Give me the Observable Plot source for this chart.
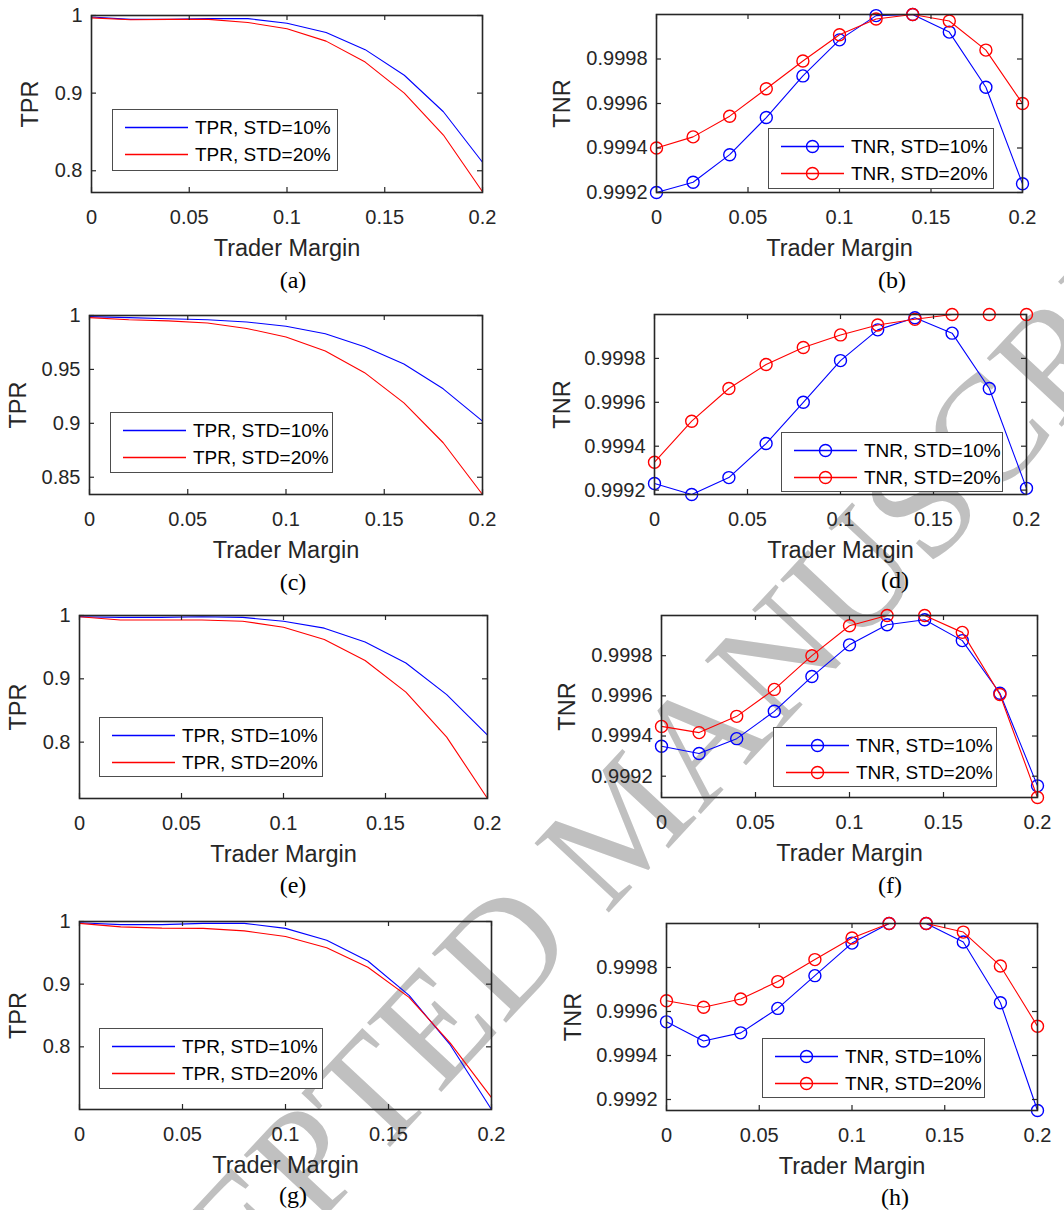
<!DOCTYPE html>
<html><head><meta charset="utf-8">
<script src="https://cdn.jsdelivr.net/npm/d3@7"></script>
<script src="https://cdn.jsdelivr.net/npm/@observablehq/plot@0.6"></script>
<style>
html,body{margin:0;padding:0;background:#fff;}
#page{position:relative;width:1064px;height:1210px;overflow:hidden;font-family:"Liberation Sans",Arial,sans-serif;color:#262626;}
.abs{position:absolute;}
.cap{position:absolute;font-family:"Liberation Serif","Times New Roman",serif;font-size:24px;color:#000;transform:translate(-50%,-50%);white-space:nowrap;line-height:1;}
</style></head><body><div id="page"></div>
<script>
// ---------- data ----------
const margins = [0, 0.02, 0.04, 0.06, 0.08, 0.10, 0.12, 0.14, 0.16, 0.18, 0.20];
const xTicks = [0, 0.05, 0.1, 0.15, 0.2];
const xTickLabels = ["0", "0.05", "0.1", "0.15", "0.2"];
const tprTicksWide = [0.8, 0.9, 1];
const tprTickLabelsWide = ["0.8", "0.9", "1"];
const tprTicksNarrow = [0.85, 0.9, 0.95, 1];
const tprTickLabelsNarrow = ["0.85", "0.9", "0.95", "1"];
const tnrTicks = [0.9992, 0.9994, 0.9996, 0.9998];
const tnrTickLabels = ["0.9992", "0.9994", "0.9996", "0.9998"];
const xLabel = "Trader Margin";
const stdLabels = ["STD=10%", "STD=20%"];
const captions = ["(a)", "(b)", "(c)", "(d)", "(e)", "(f)", "(g)", "(h)"];
const watermark = "ACCEPTED MANUSCRIPT";

const tprA10 = [0.998, 0.995, 0.995, 0.996, 0.996, 0.990, 0.978, 0.956, 0.923, 0.876, 0.811];
const tprA20 = [0.997, 0.9945, 0.995, 0.995, 0.991, 0.983, 0.967, 0.940, 0.900, 0.846, 0.773];
const tnrB10 = [0.99920, 0.999246, 0.99937, 0.999537, 0.999724, 0.999886, 0.999995, 1.0, 0.999921, 0.999673, 0.999239];
const tnrB20 = [0.99940, 0.99945, 0.999543, 0.999666, 0.999791, 0.999909, 0.99998, 1.0, 0.999971, 0.99984, 0.99960];
const tprC10 = [0.999, 0.998, 0.997, 0.996, 0.994, 0.990, 0.983, 0.971, 0.955, 0.932, 0.902];
const tprC20 = [0.998, 0.996, 0.995, 0.993, 0.988, 0.980, 0.967, 0.947, 0.919, 0.882, 0.834];
const tnrD10 = [0.99923, 0.99918, 0.999257, 0.999412, 0.9996, 0.99979, 0.99993, 0.999985, 0.999915, 0.999663, 0.999208];
const tnrD20 = [0.999327, 0.999514, 0.999663, 0.999772, 0.99985, 0.999907, 0.999952, 0.999978, 1.0, 1.0, 1.0];
const tprE10 = [0.998, 0.997, 0.997, 0.998, 0.997, 0.991, 0.980, 0.958, 0.925, 0.875, 0.811];
const tprE20 = [0.998, 0.993, 0.993, 0.993, 0.991, 0.9815, 0.962, 0.929, 0.879, 0.808, 0.711];
const tnrF10 = [0.999349, 0.999313, 0.999387, 0.999523, 0.999696, 0.999854, 0.999954, 0.999979, 0.999875, 0.999613, 0.999152];
const tnrF20 = [0.999448, 0.999417, 0.999498, 0.999632, 0.9998, 0.999949, 1.0, 1.0, 0.999916, 0.999607, 0.999094];
const tprG10 = [0.998, 0.995, 0.995, 0.997, 0.997, 0.989, 0.970, 0.937, 0.882, 0.803, 0.700];
const tprG20 = [0.997, 0.9915, 0.9895, 0.989, 0.985, 0.976, 0.958, 0.927, 0.879, 0.806, 0.719];
const tnrH10 = [0.999553, 0.999466, 0.999503, 0.999614, 0.999763, 0.999911, 1.0, 1.0, 0.999916, 0.99964, 0.99915];
const tnrH20 = [0.999649, 0.999619, 0.999657, 0.999736, 0.999836, 0.999934, 1.0, 1.0, 0.999961, 0.999807, 0.999533];

// ---------- layout / style ----------
const BLUE = "#0000ff", RED = "#ff0000", INK = "#262626";
const panels = [
  {s10: tprA10, s20: tprA20, yDomain: [0.772, 1], yTicks: tprTicksWide, yTickLabels: tprTickLabelsWide, yLabel: "TPR", markers: false,
   frame: [91, 15, 482, 192], yLabelX: 30, legend: [112, 109, 338, 171], cap: [293, 280]},
  {s10: tnrB10, s20: tnrB20, yDomain: [0.9992, 1.0], yTicks: tnrTicks, yTickLabels: tnrTickLabels, yLabel: "TNR", markers: true,
   frame: [656, 14, 1022, 192], yLabelX: 562, legend: [768, 128, 994, 189], cap: [892, 280]},
  {s10: tprC10, s20: tprC20, yDomain: [0.834, 1], yTicks: tprTicksNarrow, yTickLabels: tprTickLabelsNarrow, yLabel: "TPR", markers: false,
   frame: [89, 315, 482, 494], yLabelX: 18, legend: [110, 412, 333, 473], cap: [293, 582]},
  {s10: tnrD10, s20: tnrD20, yDomain: [0.99918, 1.0], yTicks: tnrTicks, yTickLabels: tnrTickLabels, yLabel: "TNR", markers: true,
   frame: [654, 314, 1026, 494], yLabelX: 562, legend: [781, 432, 1003, 492], cap: [895, 580]},
  {s10: tprE10, s20: tprE20, yDomain: [0.711, 1], yTicks: tprTicksWide, yTickLabels: tprTickLabelsWide, yLabel: "TPR", markers: false,
   frame: [79, 615, 487, 798], yLabelX: 18, legend: [99, 717, 323, 777], cap: [293, 885]},
  {s10: tnrF10, s20: tnrF20, yDomain: [0.999094, 1.0], yTicks: tnrTicks, yTickLabels: tnrTickLabels, yLabel: "TNR", markers: true,
   frame: [661, 615, 1037, 797], yLabelX: 567, legend: [773, 727, 997, 787], cap: [890, 885]},
  {s10: tprG10, s20: tprG20, yDomain: [0.700, 1], yTicks: tprTicksWide, yTickLabels: tprTickLabelsWide, yLabel: "TPR", markers: false,
   frame: [79, 921, 491, 1109], yLabelX: 18, legend: [99, 1028, 323, 1089], cap: [293, 1195]},
  {s10: tnrH10, s20: tnrH20, yDomain: [0.99915, 1.0], yTicks: tnrTicks, yTickLabels: tnrTickLabels, yLabel: "TNR", markers: true,
   frame: [666, 923, 1037, 1110], yLabelX: 573, legend: [762, 1038, 985, 1098], cap: [895, 1197]}
];

const page = document.getElementById("page");
const NS = "http://www.w3.org/2000/svg";

// watermark (behind everything)
{
  const svg = document.createElementNS(NS, "svg");
  svg.setAttribute("width", 1064); svg.setAttribute("height", 1210);
  svg.setAttribute("class", "abs"); svg.style.left = "0px"; svg.style.top = "0px";
  const t = document.createElementNS(NS, "text");
  t.setAttribute("transform", "translate(622,822) rotate(-47)");
  t.setAttribute("text-anchor", "middle");
  t.setAttribute("dominant-baseline", "central");
  t.setAttribute("font-family", "Liberation Serif, Times New Roman, serif");
  t.setAttribute("font-size", "155");
  t.setAttribute("fill", "#c0c0c0");
  t.textContent = watermark;
  svg.appendChild(t);
  page.appendChild(svg);
}

const mL = 130, mR = 30, mT = 20, mB = 80;

panels.forEach((p, k) => {
  const [fx0, fy0, fx1, fy1] = p.frame;
  const fw = fx1 - fx0, fh = fy1 - fy0;
  const d10 = margins.map((x, i) => ({x, y: p.s10[i]}));
  const d20 = margins.map((x, i) => ({x, y: p.s20[i]}));
  const marks = [
    Plot.line(d10, {x: "x", y: "y", stroke: BLUE, strokeWidth: 1.1}),
  ];
  if (p.markers) marks.push(Plot.dot(d10, {x: "x", y: "y", r: 6, stroke: BLUE, strokeWidth: 1.4, fill: "none"}));
  marks.push(Plot.line(d20, {x: "x", y: "y", stroke: RED, strokeWidth: 1.1}));
  if (p.markers) marks.push(Plot.dot(d20, {x: "x", y: "y", r: 6, stroke: RED, strokeWidth: 1.4, fill: "none"}));
  marks.push(
    Plot.tickX(xTicks, {x: d => d, insetTop: fh - 5, stroke: INK, strokeWidth: 1.2}),
    Plot.tickX(xTicks, {x: d => d, insetBottom: fh - 5, stroke: INK, strokeWidth: 1.2}),
    Plot.tickY(p.yTicks, {y: d => d, insetRight: fw - 5, stroke: INK, strokeWidth: 1.2}),
    Plot.tickY(p.yTicks, {y: d => d, insetLeft: fw - 5, stroke: INK, strokeWidth: 1.2}),
    Plot.frame({stroke: INK, strokeWidth: 1.6}),
    Plot.axisX({ticks: xTicks, tickFormat: d => xTickLabels[xTicks.indexOf(d)], tickSize: 0, tickPadding: 17, fontSize: 20, label: null, fill: INK}),
    Plot.axisY({ticks: p.yTicks, tickFormat: d => p.yTickLabels[p.yTicks.indexOf(d)], tickSize: 0, tickPadding: 9, fontSize: 20, label: null, fill: INK}),
    Plot.text([xLabel], {text: d => d, frameAnchor: "bottom", lineAnchor: "middle", textAnchor: "middle", dy: 56, fontSize: 23.5, fill: INK}),
    Plot.text([p.yLabel], {text: d => d, frameAnchor: "left", lineAnchor: "middle", textAnchor: "middle", dx: p.yLabelX - fx0, rotate: -90, fontSize: 23.5, fill: INK})
  );
  const chart = Plot.plot({
    width: fw + mL + mR, height: fh + mT + mB,
    marginLeft: mL, marginRight: mR, marginTop: mT, marginBottom: mB,
    style: {background: "transparent", fontFamily: "Liberation Sans, Arial, sans-serif", color: INK, overflow: "visible"},
    x: {domain: [0, 0.2]},
    y: {domain: p.yDomain},
    marks
  });
  chart.classList.add("abs");
  chart.style.left = (fx0 - mL) + "px";
  chart.style.top = (fy0 - mT) + "px";
  page.appendChild(chart);

  // legend
  const [lx0, ly0, lx1, ly1] = p.legend;
  const lw = lx1 - lx0, lh = ly1 - ly0;
  const lg = document.createElementNS(NS, "svg");
  lg.setAttribute("width", lw); lg.setAttribute("height", lh);
  lg.setAttribute("class", "abs"); lg.style.left = lx0 + "px"; lg.style.top = ly0 + "px";
  const rect = document.createElementNS(NS, "rect");
  rect.setAttribute("x", 0.5); rect.setAttribute("y", 0.5);
  rect.setAttribute("width", lw - 1); rect.setAttribute("height", lh - 1);
  rect.setAttribute("fill", "#fff"); rect.setAttribute("stroke", "#4d4d4d"); rect.setAttribute("stroke-width", 1);
  lg.appendChild(rect);
  [BLUE, RED].forEach((c, i) => {
    const yy = 18.5 + i * 27;
    const ln = document.createElementNS(NS, "line");
    ln.setAttribute("x1", 13); ln.setAttribute("x2", 76); ln.setAttribute("y1", yy); ln.setAttribute("y2", yy);
    ln.setAttribute("stroke", c); ln.setAttribute("stroke-width", 1.5);
    lg.appendChild(ln);
    if (p.markers) {
      const ci = document.createElementNS(NS, "circle");
      ci.setAttribute("cx", 44.5); ci.setAttribute("cy", yy); ci.setAttribute("r", 6);
      ci.setAttribute("fill", "none"); ci.setAttribute("stroke", c); ci.setAttribute("stroke-width", 1.4);
      lg.appendChild(ci);
    }
    const tx = document.createElementNS(NS, "text");
    tx.setAttribute("x", 83); tx.setAttribute("y", yy);
    tx.setAttribute("dominant-baseline", "central");
    tx.setAttribute("font-family", "Liberation Sans, Arial, sans-serif");
    tx.setAttribute("font-size", 19);
    tx.setAttribute("fill", "#000");
    tx.textContent = p.yLabel + ", " + stdLabels[i];
    lg.appendChild(tx);
  });
  page.appendChild(lg);

  // caption
  const cap = document.createElement("div");
  cap.className = "cap";
  cap.style.left = p.cap[0] + "px"; cap.style.top = p.cap[1] + "px";
  cap.textContent = captions[k];
  page.appendChild(cap);
});
</script>
</body></html>
